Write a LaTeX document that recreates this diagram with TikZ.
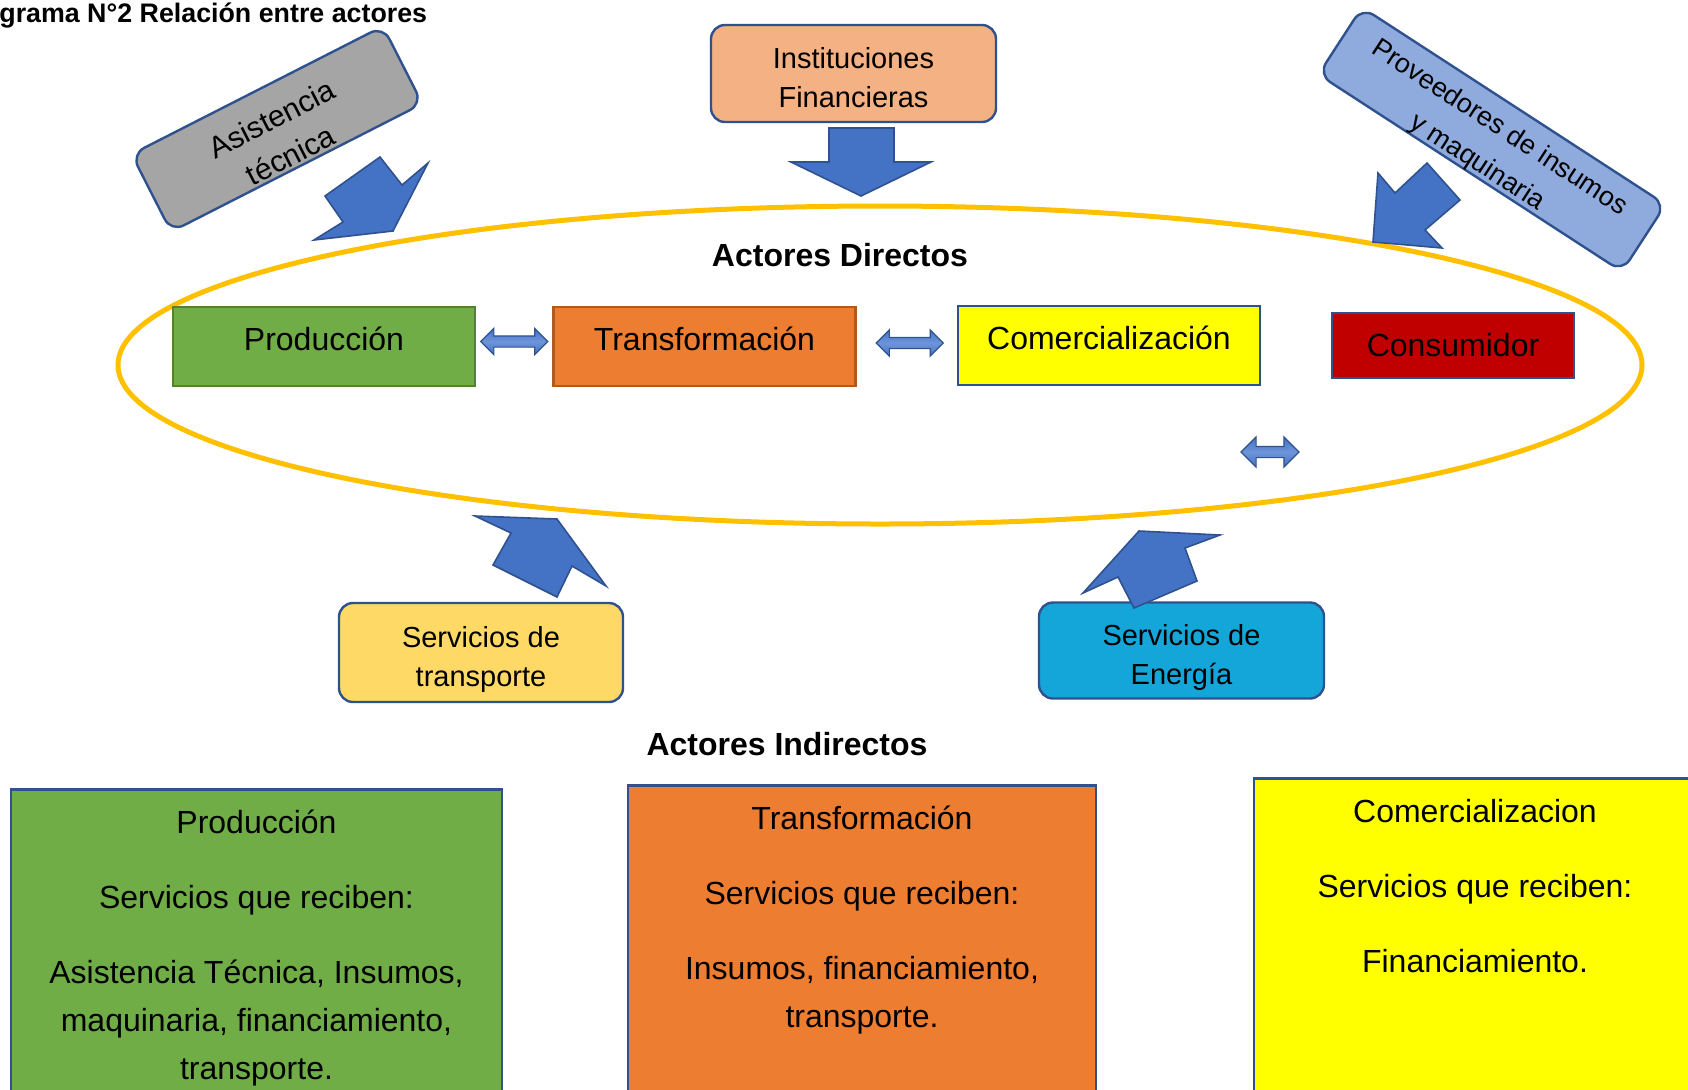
\documentclass[tikz,border=0pt]{standalone}
\usepackage{fontspec}
\setmainfont{Liberation Sans}
\usepackage{xcolor}
\usepackage{tikz}
\usetikzlibrary{shapes.arrows,calc,positioning}

\definecolor{bdr}{HTML}{2F528F}
\definecolor{grn}{HTML}{70AD47}
\definecolor{grnd}{HTML}{548235}
\definecolor{org}{HTML}{ED7D31}
\definecolor{orgd}{HTML}{AE5A21}
\definecolor{yel}{HTML}{FFFF00}
\definecolor{crd}{HTML}{C00000}
\definecolor{pch}{HTML}{F4B183}
\definecolor{gry}{HTML}{A5A5A5}
\definecolor{lbl}{HTML}{8FAADC}
\definecolor{gld}{HTML}{FFD966}
\definecolor{cyn}{HTML}{14A6D8}
\definecolor{arr}{HTML}{4472C4}
\definecolor{arrl}{HTML}{6E95DA}
\definecolor{elp}{HTML}{FFC000}

\begin{document}
\begin{tikzpicture}[x=0.5pt,y=-0.5pt,
every node/.style={inner sep=2pt},
box/.style={draw,line width=1.2pt,minimum width=151pt,minimum height=39.5pt,text height=12pt,text depth=8.5pt,font=\fontsize{16}{19}\selectfont},
rbox/.style={draw=bdr,line width=1.2pt,rounded corners=7pt,align=center,text height=34pt,text depth=0pt,font=\fontsize{14.5}{19.5}\selectfont},
big/.style={draw=bdr,line width=1.3pt,anchor=north,align=center,inner ysep=10pt,text depth=160pt,font=\fontsize{16}{24}\selectfont},
blk/.style={fill=arr,draw=bdr,line width=0.8pt},
dbl/.style={double arrow,draw=bdr,line width=0.6pt,inner sep=0pt,text height=5pt,text depth=0pt,double arrow head extend=3.75pt,minimum height=33.5pt,minimum width=12.5pt,top color=arr,bottom color=arr,middle color=arrl},
ttl/.style={font=\fontsize{16}{19}\selectfont\bfseries}
]
\useasboundingbox (0,0) rectangle (1688,1089);

\node[anchor=west,inner sep=0pt,font=\fontsize{13.4}{16}\selectfont\bfseries] (title) at (-1,16) {grama N°2 Relación entre actores};

\draw[color=elp,line width=2.5pt] (880,365) ellipse [x radius=381pt,y radius=79.5pt];
\node[ttl] (dir) at (840,255) {Actores Directos};

\node[box,fill=grn,draw=grnd] (Pr) at (324,346.5) {Producción};
\node[box,fill=org,draw=orgd] (Tr) at (704.5,346.5) {Transformación};
\node[box,fill=yel,draw=bdr] (Co) at (1109,345.5) {Comercialización};
\node[box,fill=crd,draw=bdr,minimum width=121pt,minimum height=32.5pt,text depth=1pt] (Cs) at (1453,345.5) {Consumidor};

\node[dbl] (d1) at ($(Pr.east)!0.5!(Tr.west)+(0,-5)$) {};
\node[dbl] (d2) at ($(Tr.east)!0.5!(Co.west)+(3,-3)$) {};
\node[dbl,minimum height=29pt,minimum width=14.5pt,double arrow head extend=4.75pt] (d3) at (1270,452) {};

\node[rbox,fill=pch,minimum width=142.5pt,minimum height=48.5pt] (IF) at (853.5,73.5) {Instituciones\\Financieras};
\node[rbox,fill=gry,rotate=27,inner sep=0pt,minimum width=141pt,minimum height=43.5pt,text height=40pt,text depth=-4pt,font=\fontsize{15}{20.5}\selectfont] (AT) at (277,129) {Asistencia\\técnica};
\node[rbox,fill=lbl,rotate=-33,minimum width=181pt,minimum height=40pt,text height=34.8pt,font=\fontsize{13.5}{20.5}\selectfont] (PI) at (1492,139.5) {Proveedores de insumos\\y maquinaria};
\node[rbox,fill=gld,minimum width=142pt,minimum height=49.5pt] (ST) at (481,652.5) {Servicios de\\transporte};
\node[rbox,fill=cyn,minimum width=142.5pt,minimum height=48pt] (SE) at (1181.5,650.5) {Servicios de\\Energía};

\filldraw[blk] (829,128) -- (894,128) -- (894,162) -- (931,162) -- (861,196) -- (791,162) -- (829,162) -- cycle;
\filldraw[blk] (380,157) -- (402,185) -- (428,163) -- (393,231) -- (314,240) -- (343,222) -- (325,196) -- cycle;
\filldraw[blk] (1427,163) -- (1460,200) -- (1425,230) -- (1442,248) -- (1373,242) -- (1378,173) -- (1395,193) -- cycle;
\filldraw[blk] (475,516) -- (557,519) -- (606,586) -- (572,566) -- (557,597) -- (493,565) -- (511,533) -- cycle;
\filldraw[blk] (1139,531) -- (1220,535) -- (1185,548) -- (1197,581) -- (1134,608) -- (1118,577) -- (1083,593) -- cycle;

\node[ttl] (ind) at (787,744) {Actores Indirectos};
\node[big,fill=grn,minimum width=245.5pt,text height=135pt] (PrI) at (256.5,788) {Producción\\[13.5pt]Servicios que reciben:\\[13.5pt]Asistencia Técnica, Insumos,\\maquinaria, financiamiento,\\transporte.};
\node[big,fill=org,minimum width=234pt,text height=111pt] (TrI) at (862,784) {Transformación\\[13.5pt]Servicios que reciben:\\[13.5pt]Insumos, financiamiento,\\transporte.};
\node[big,fill=yel,minimum width=221pt,text height=87pt] (CoI) at (1475,777) {Comercializacion\\[13.5pt]Servicios que reciben:\\[13.5pt]Financiamiento.};
\end{tikzpicture}
\end{document}
